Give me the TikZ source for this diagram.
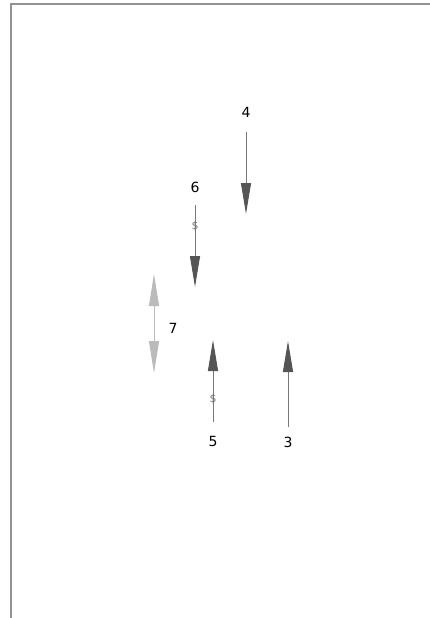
\documentclass[tikz,border=0pt]{standalone}
\usepackage{fontspec}
\setmainfont{DejaVu Sans}
\usepackage{tikz}
\usetikzlibrary{arrows.meta}
\definecolor{figD}{RGB}{85,85,85}
\definecolor{figL}{RGB}{187,187,187}
\definecolor{figM}{RGB}{120,120,120}
\tikzset{num/.style={font=\fontsize{14}{16}\selectfont, inner sep=0pt},
  dollar/.style={font=\fontsize{11}{12}\selectfont, text=figM, inner sep=0pt},
  dark/.style={draw=figM, line width=1pt, -{Triangle[length=31pt,width=10pt,color=figD,fill=figD]}},
  light/.style={draw=figL, line width=1pt, {Triangle[length=32pt,width=10pt,color=figL,fill=figL]}-{Triangle[length=32pt,width=10pt,color=figL,fill=figL]}}}

\begin{document}
\begin{tikzpicture}[x=1pt, y=-1pt]
\useasboundingbox (0,0) rectangle (430,618);
% frame
\draw[figM!80, line width=1.4pt] (11,618) -- (11,4) -- (430,4);
% labels
\node[num] (N4) at (246,112) {4};
\node[num] (N6) at (195,187) {6};
\node[num] (N7) at (173,328) {7};
\node[num] (N5) at (213,441) {5};
\node[num] (N3) at (288,442) {3};
% arrow ends
\coordinate (A4) at (246,132);
\coordinate (B4) at (246,214);
\coordinate (A6) at (195,205);
\coordinate (B6) at (195,287);
\coordinate (A7) at (154,274);
\coordinate (B7) at (154,373);
\coordinate (A5) at (213,422);
\coordinate (B5) at (213,340);
\coordinate (A3) at (288,427);
\coordinate (B3) at (288,341);
\draw[dark] (A4) -- (B4);
\draw[dark] (A6) -- (B6);
\draw[light] (A7) -- (B7);
\draw[dark] (A5) -- (B5);
\draw[dark] (A3) -- (B3);
% signs on the arrows
\node[dollar] (S6) at (195,226) {\$};
\node[dollar] (S5) at (213,399) {\$};
\end{tikzpicture}
\end{document}
